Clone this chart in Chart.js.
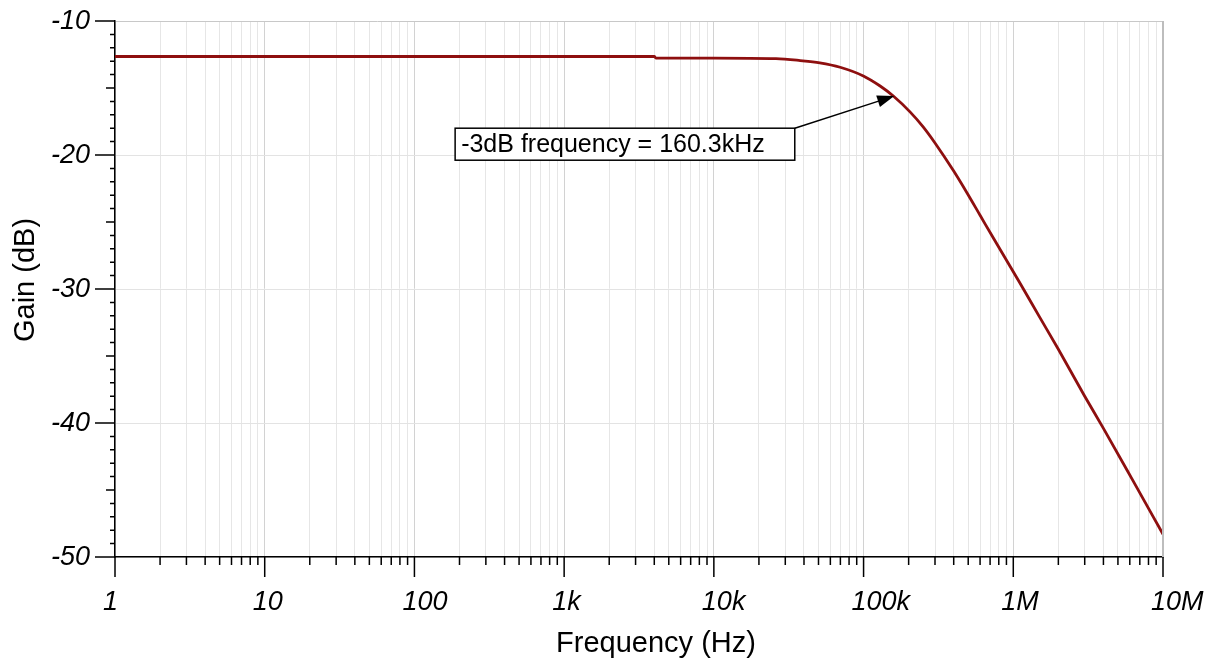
<!DOCTYPE html>
<html>
<head>
<meta charset="utf-8">
<script src="https://cdn.jsdelivr.net/npm/chart.js@4"></script>
<style>
  body { margin: 0; background: #fff; }
  canvas { display: block; }
</style>
</head>
<body>
<canvas id="bode" width="1217" height="663"></canvas>
<script>
// values
const freqHz = [1, 10, 100, 1000, 4000, 4100, 10000, 26000, 37700, 51000, 69700, 99700,
                129000, 158000, 205000, 250000, 300000, 400000, 489000, 600000, 736000,
                1100000, 1500000, 2000000, 3000000, 4000000, 6300000, 10000000];
const gainDb = [-12.65, -12.65, -12.65, -12.65, -12.65, -12.77, -12.77, -12.81, -12.95, -13.12, -13.45, -14.1,
                -14.85, -15.6, -16.8, -17.9, -19.1, -21.2, -22.8, -24.5, -26.2,
                -29.5, -32.1, -34.5, -38.0, -40.4, -44.3, -48.3];

const decades = [1, 10, 100, 1000, 10000, 100000, 1000000, 10000000];
const decadeLabels = ["1", "10", "100", "1k", "10k", "100k", "1M", "10M"];
const yTicks = [-50, -40, -30, -20, -10];

const xTitle = "Frequency (Hz)";
const yTitle = "Gain (dB)";

// annotation
const markFreq = 160300;
const markGain = -15.6;
const markText = "-3dB frequency = 160.3kHz";
const boxFreq = 187;
const boxGain = -18;

const FONT = "'Liberation Sans', Arial, sans-serif";

const isDecade = v => decades.indexOf(v) >= 0;

// tick marks, borders, titles and annotation
const extras = {
    id: "extras",
    afterDraw(chart) {
        const ctx = chart.ctx;
        const a = chart.chartArea;
        const xs = chart.scales.x, ys = chart.scales.y;
        ctx.save();
        // right border
        ctx.strokeStyle = "#bdbdbd";
        ctx.lineWidth = 2;
        ctx.beginPath();
        ctx.moveTo(a.right, a.top);
        ctx.lineTo(a.right, a.bottom);
        ctx.stroke();

        ctx.strokeStyle = "#000";
        ctx.lineWidth = 1.5;
        ctx.beginPath();
        xs.ticks.forEach(t => {
            const px = xs.getPixelForValue(t.value);
            const len = isDecade(t.value) ? 20 : 8;
            ctx.moveTo(px, a.bottom);
            ctx.lineTo(px, a.bottom + len);
        });
        for (let v = -50; v <= -10; v++) {
            const py = ys.getPixelForValue(v);
            const len = v % 10 === 0 ? 20 : (v % 5 === 0 ? 9 : 5);
            ctx.moveTo(a.left, py);
            ctx.lineTo(a.left - len, py);
        }
        ctx.stroke();

        // axis titles
        ctx.fillStyle = "#000";
        ctx.font = "29px " + FONT;
        ctx.textAlign = "center";
        ctx.textBaseline = "middle";
        ctx.fillText(xTitle, (a.left + a.right) / 2 + 17, 644);
        ctx.save();
        ctx.translate(26, (a.top + a.bottom) / 2 - 9);
        ctx.rotate(-Math.PI / 2);
        ctx.fillText(yTitle, 0, 0);
        ctx.restore();

        // annotation box
        ctx.font = "25px " + FONT;
        ctx.textAlign = "left";
        const bx = xs.getPixelForValue(boxFreq);
        const by = ys.getPixelForValue(boxGain);
        const tw = ctx.measureText(markText).width;
        const bw = tw + 36, bh = 32;
        ctx.fillStyle = "#fff";
        ctx.fillRect(bx, by, bw, bh);
        ctx.strokeStyle = "#000";
        ctx.lineWidth = 1.5;
        ctx.strokeRect(bx, by, bw, bh);
        ctx.fillStyle = "#000";
        ctx.fillText(markText, bx + 6, by + bh / 2 + 1);

        // arrow
        const tx = xs.getPixelForValue(markFreq);
        const ty = ys.getPixelForValue(markGain);
        const sx = bx + bw, sy = by;
        const ang = Math.atan2(ty - sy, tx - sx);
        ctx.beginPath();
        ctx.moveTo(sx, sy);
        ctx.lineTo(tx - 14 * Math.cos(ang), ty - 14 * Math.sin(ang));
        ctx.lineWidth = 1.5;
        ctx.stroke();
        ctx.beginPath();
        ctx.moveTo(tx, ty);
        ctx.lineTo(tx - 17 * Math.cos(ang) + 6 * Math.sin(ang), ty - 17 * Math.sin(ang) - 6 * Math.cos(ang));
        ctx.lineTo(tx - 17 * Math.cos(ang) - 6 * Math.sin(ang), ty - 17 * Math.sin(ang) + 6 * Math.cos(ang));
        ctx.closePath();
        ctx.fill();
        ctx.restore();
    }
};

new Chart(document.getElementById("bode"), {
    type: "line",
    data: {
        datasets: [{
            data: freqHz.map((f, i) => ({ x: f, y: gainDb[i] })),
            borderColor: "#8e0f0f",
            borderWidth: 2.8,
            pointRadius: 0,
            cubicInterpolationMode: "monotone",
            fill: false
        }]
    },
    options: {
        responsive: false,
        animation: false,
        layout: {
            padding: { top: 21, right: 54, left: 0, bottom: 0 }
        },
        plugins: {
            legend: { display: false },
            tooltip: { enabled: false }
        },
        scales: {
            x: {
                type: "logarithmic",
                min: 1,
                max: 10000000,
                afterBuildTicks: scale => {
                    const t = [];
                    decades.forEach(d => {
                        for (let m = 1; m <= 9; m++) {
                            if (d * m <= 10000000) t.push({ value: d * m });
                        }
                    });
                    scale.ticks = t;
                },
                afterFit: scale => {
                    scale.height = 106;
                    scale.paddingLeft = 0;
                    scale.paddingRight = 0;
                },
                grid: {
                    drawTicks: false,
                    color: c => (c.tick && isDecade(c.tick.value)) ? "#d2d2d2" : "#e6e6e6",
                    lineWidth: 1
                },
                border: { color: "#000", width: 1.5 },
                ticks: {
                    autoSkip: false,
                    maxRotation: 0,
                    align: "start",
                    labelOffset: -12,
                    padding: 29,
                    color: "#000",
                    font: { family: FONT, size: 27, style: "italic" },
                    callback: v => {
                        const i = decades.indexOf(v);
                        return i >= 0 ? decadeLabels[i] : "";
                    }
                }
            },
            y: {
                min: -50,
                max: -10,
                afterBuildTicks: scale => {
                    scale.ticks = yTicks.map(v => ({ value: v }));
                },
                afterFit: scale => {
                    scale.width = 115;
                    scale.paddingTop = 0;
                    scale.paddingBottom = 0;
                },
                grid: {
                    drawTicks: false,
                    color: c => c.tick && c.tick.value === -10 ? "#c8c8c8" : "#e3e3e3",
                    lineWidth: 1
                },
                border: { color: "#000", width: 1.5 },
                ticks: {
                    padding: 25,
                    color: "#000",
                    font: { family: FONT, size: 27, style: "italic" }
                }
            }
        }
    },
    plugins: [extras]
});
</script>
</body>
</html>
